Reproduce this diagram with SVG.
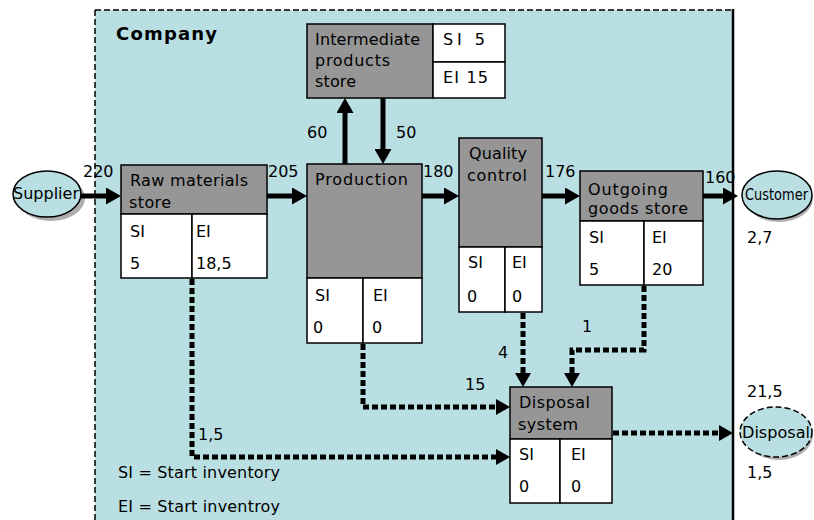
<svg xmlns="http://www.w3.org/2000/svg" width="814" height="520" viewBox="0 0 814 520">
<style>
.hd{fill:#969696;stroke:#000;stroke-width:1.5}
.wt{fill:#fff;stroke:#000;stroke-width:1.5}
.t{font-family:"DejaVu Sans","Liberation Sans",Arial,sans-serif;font-size:16px;fill:#000}
.b{font-weight:bold;font-size:18px}
.flow{stroke:#000;stroke-width:5;fill:none}
.waste{stroke:#000;stroke-width:5;fill:none;stroke-dasharray:6 3}
.ell{fill:#b9dfe3;stroke:#000;stroke-width:1.5}
.sh{fill:#8c8c8c;opacity:0.7}
</style>
<defs>
<marker id="ah" viewBox="0 0 15 17" refX="7" refY="8.5" markerWidth="15" markerHeight="17" markerUnits="userSpaceOnUse" orient="auto">
<path d="M0,0 L15,8.5 L0,17 Z" fill="#000"/>
</marker>
<marker id="dh" viewBox="0 0 14 16" refX="6" refY="8" markerWidth="14" markerHeight="16" markerUnits="userSpaceOnUse" orient="auto">
<path d="M0,0 L14,8 L0,16 Z" fill="#000"/>
</marker>
</defs>
<rect width="814" height="520" fill="#fff"/>
<g id="company">
<rect x="95" y="10" width="638" height="512" fill="#b9dfe3"/>
<line x1="95" y1="10" x2="733" y2="10" stroke="#000" stroke-width="1.5" stroke-dasharray="6 3"/>
<line x1="95" y1="10" x2="95" y2="520" stroke="#000" stroke-width="1.5" stroke-dasharray="6 3"/>
<line x1="733" y1="9" x2="733" y2="520" stroke="#000" stroke-width="2.5"/>
<text class="t b" x="116" y="40" textLength="101" lengthAdjust="spacing">Company</text>
</g>
<g id="supplier">
<ellipse class="sh" cx="51" cy="198" rx="34" ry="23"/>
<ellipse class="ell" cx="47" cy="194" rx="34" ry="23"/>
<text class="t" x="13" y="199" textLength="66" lengthAdjust="spacingAndGlyphs">Supplier</text>
</g>
<g id="customer">
<ellipse class="sh" cx="779" cy="198" rx="34" ry="24"/>
<ellipse class="ell" cx="777" cy="195" rx="35" ry="24"/>
<text class="t" x="745" y="200" font-size="14" textLength="63" lengthAdjust="spacingAndGlyphs">Customer</text>
<text class="t" x="747" y="243">2,7</text>
</g>
<g id="disposal">
<ellipse class="sh" cx="779" cy="435" rx="34" ry="25"/>
<ellipse class="ell" cx="776" cy="432" rx="36" ry="25" stroke-dasharray="6 3"/>
<text class="t" x="742" y="438" textLength="68" lengthAdjust="spacingAndGlyphs">Disposal</text>
<text class="t" x="747" y="397">21,5</text>
<text class="t" x="747" y="478">1,5</text>
</g>
<g id="raw-materials-store">
<rect class="hd" x="121" y="165" width="146" height="49"/>
<rect class="wt" x="121" y="214" width="71" height="64"/>
<rect class="wt" x="192" y="214" width="75" height="64"/>
<text class="t" x="130" y="186" textLength="118" lengthAdjust="spacing">Raw materials</text>
<text class="t" x="129" y="208" textLength="42" lengthAdjust="spacing">store</text>
<text class="t" x="130" y="237">SI</text>
<text class="t" x="130" y="269">5</text>
<text class="t" x="196" y="237">EI</text>
<text class="t" x="196" y="269">18,5</text>
</g>
<g id="intermediate-products-store">
<rect class="hd" x="307" y="24" width="126" height="74"/>
<rect class="wt" x="433" y="24" width="72" height="38"/>
<rect class="wt" x="433" y="62" width="72" height="36"/>
<text class="t" x="315" y="45" textLength="105" lengthAdjust="spacing">Intermediate</text>
<text class="t" x="315" y="66" textLength="75" lengthAdjust="spacing">products</text>
<text class="t" x="315" y="87" textLength="41" lengthAdjust="spacing">store</text>
<text class="t" x="443" y="45" textLength="42" lengthAdjust="spacing">SI 5</text>
<text class="t" x="443" y="83" textLength="45" lengthAdjust="spacing">EI 15</text>
</g>
<g id="production">
<rect class="hd" x="307" y="164" width="115" height="114"/>
<rect class="wt" x="307" y="278" width="56" height="65"/>
<rect class="wt" x="363" y="278" width="59" height="65"/>
<text class="t" x="315" y="185" textLength="93" lengthAdjust="spacing">Production</text>
<text class="t" x="315" y="301">SI</text>
<text class="t" x="313" y="333">0</text>
<text class="t" x="373" y="301">EI</text>
<text class="t" x="372" y="333">0</text>
</g>
<g id="quality-control">
<rect class="hd" x="459" y="138" width="83" height="109"/>
<rect class="wt" x="459" y="247" width="46" height="65"/>
<rect class="wt" x="505" y="247" width="37" height="65"/>
<text class="t" x="469" y="159" textLength="58" lengthAdjust="spacing">Quality</text>
<text class="t" x="467" y="181" textLength="60" lengthAdjust="spacing">control</text>
<text class="t" x="468" y="268">SI</text>
<text class="t" x="467" y="302">0</text>
<text class="t" x="512" y="268">EI</text>
<text class="t" x="512" y="302">0</text>
</g>
<g id="outgoing-goods-store">
<rect class="hd" x="580" y="171" width="123" height="50"/>
<rect class="wt" x="580" y="221" width="64" height="64"/>
<rect class="wt" x="644" y="221" width="59" height="64"/>
<text class="t" x="588" y="195" textLength="80" lengthAdjust="spacing">Outgoing</text>
<text class="t" x="588" y="214" textLength="100" lengthAdjust="spacing">goods store</text>
<text class="t" x="589" y="243">SI</text>
<text class="t" x="589" y="275">5</text>
<text class="t" x="652" y="243">EI</text>
<text class="t" x="652" y="275">20</text>
</g>
<g id="disposal-system">
<rect class="hd" x="510" y="387" width="102" height="52"/>
<rect class="wt" x="510" y="439" width="50" height="64"/>
<rect class="wt" x="560" y="439" width="52" height="64"/>
<text class="t" x="519" y="408" textLength="71" lengthAdjust="spacing">Disposal</text>
<text class="t" x="518" y="430" textLength="60" lengthAdjust="spacing">system</text>
<text class="t" x="519" y="460">SI</text>
<text class="t" x="519" y="492">0</text>
<text class="t" x="571" y="460">EI</text>
<text class="t" x="571" y="492">0</text>
</g>
<g id="connectors">
<line class="flow" x1="81" y1="196" x2="113" y2="196" marker-end="url(#ah)"/>
<line class="flow" x1="267" y1="196" x2="299" y2="196" marker-end="url(#ah)"/>
<line class="flow" x1="422" y1="196" x2="451" y2="196" marker-end="url(#ah)"/>
<line class="flow" x1="542" y1="196" x2="572" y2="196" marker-end="url(#ah)"/>
<line class="flow" x1="703" y1="196" x2="730" y2="196" marker-end="url(#ah)"/>
<line class="flow" x1="345" y1="164" x2="345" y2="106" marker-end="url(#ah)"/>
<line class="flow" x1="383" y1="98" x2="383" y2="156" marker-end="url(#ah)"/>
<path class="waste" d="M192,279 V457 H502" marker-end="url(#dh)"/>
<path class="waste" d="M363,344 V407 H502" marker-end="url(#dh)"/>
<path class="waste" d="M523,313 V379" marker-end="url(#dh)"/>
<path class="waste" d="M644,286 V350 H572 V379" marker-end="url(#dh)"/>
<path class="waste" d="M613,433 H725" marker-end="url(#dh)"/>
<text class="t" x="83" y="177">220</text>
<text class="t" x="268" y="177">205</text>
<text class="t" x="423" y="177">180</text>
<text class="t" x="545" y="177">176</text>
<text class="t" x="705" y="183">160</text>
<text class="t" x="307" y="138">60</text>
<text class="t" x="396" y="138">50</text>
<text class="t" x="198" y="440">1,5</text>
<text class="t" x="465" y="390">15</text>
<text class="t" x="498" y="358">4</text>
<text class="t" x="582" y="332">1</text>
</g>
<g id="legend">
<text class="t" x="118" y="478" textLength="162" lengthAdjust="spacing">SI = Start inventory</text>
<text class="t" x="118" y="512" textLength="162" lengthAdjust="spacing">EI = Start inventroy</text>
</g>
</svg>
